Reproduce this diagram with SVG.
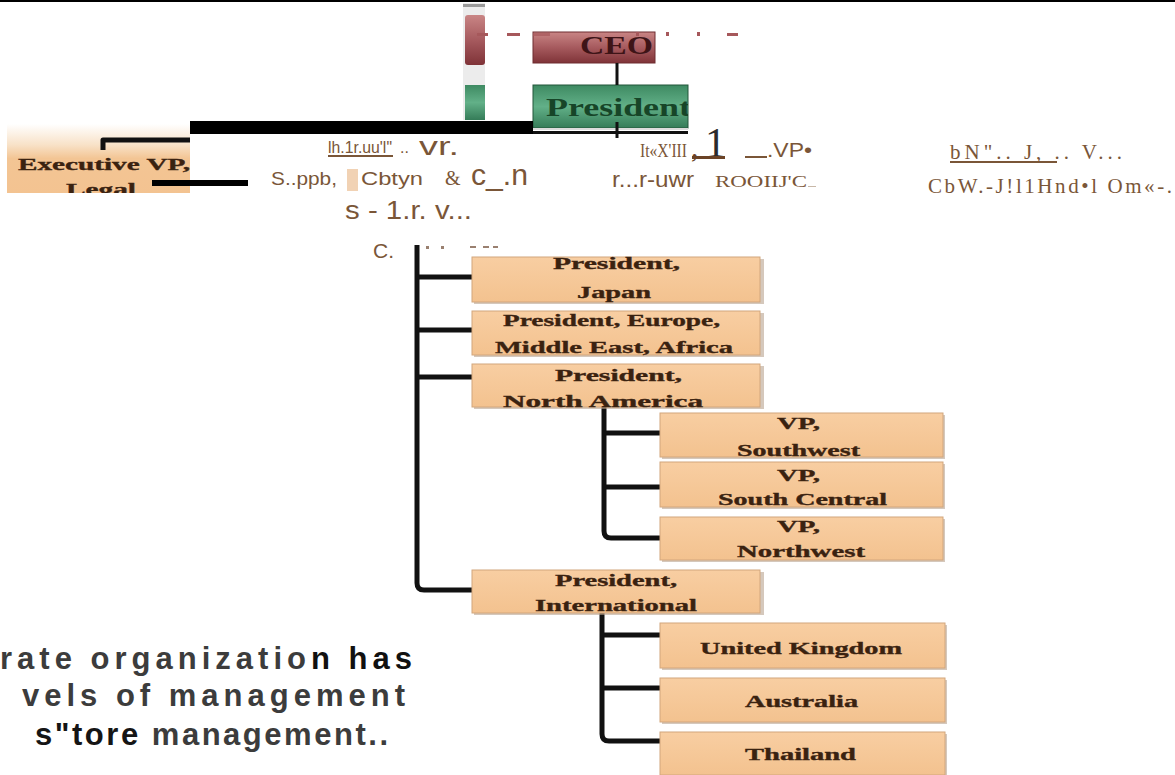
<svg xmlns="http://www.w3.org/2000/svg" width="1175" height="775" viewBox="0 0 1175 775">
<style>
.box{fill:url(#orange);stroke:#d2a67c;stroke-width:1}
.shadow{fill:#b9a48f;opacity:0.6}
.bt{font-family:"Liberation Serif",serif;font-weight:bold;font-size:17px;fill:#3a2210;stroke:#3a2210;stroke-width:0.35;text-anchor:start}
.ln{fill:none;stroke:#111;stroke-width:5;stroke-linecap:butt;stroke-linejoin:round}
.g{font-family:"Liberation Sans",sans-serif;fill:#7a5638}
.gs{font-family:"Liberation Serif",serif;fill:#7a5638}
.body{font-family:"Liberation Sans Narrow","Liberation Sans",sans-serif;font-weight:bold;font-size:31px;fill:#3c3c3c}
</style>
<defs>
<linearGradient id="orange" x1="0" y1="0" x2="0" y2="1">
<stop offset="0" stop-color="#f8cea2"/><stop offset="1" stop-color="#f3c28f"/>
</linearGradient>
<linearGradient id="execg" x1="0" y1="0" x2="0" y2="1">
<stop offset="0" stop-color="#ffffff"/><stop offset="0.3" stop-color="#f8e2c8"/><stop offset="0.5" stop-color="#f3c594"/><stop offset="1" stop-color="#f3c391"/>
</linearGradient>
<linearGradient id="red" x1="0" y1="0" x2="0" y2="1">
<stop offset="0" stop-color="#c98585"/><stop offset="0.5" stop-color="#a65a5e"/><stop offset="1" stop-color="#7f3338"/>
</linearGradient>
<linearGradient id="green" x1="0" y1="0" x2="0" y2="1">
<stop offset="0" stop-color="#3e8a62"/><stop offset="0.5" stop-color="#62b088"/><stop offset="1" stop-color="#357c58"/>
</linearGradient>
<clipPath id="cpExec"><rect x="7" y="124" width="183" height="69"/></clipPath>
<clipPath id="cpPres"><rect x="533" y="85" width="155" height="43"/></clipPath>
</defs>
<rect width="1175" height="775" fill="#ffffff"/>
<rect x="0" y="0" width="1175" height="2" fill="#000"/>

<g id="strip">
<rect x="463" y="3" width="22" height="117" fill="#ececec"/>
<rect x="463" y="4" width="22" height="3" fill="#9a9a9a"/>
<rect x="465" y="15" width="20" height="50" rx="3" fill="url(#red)"/>
<rect x="465" y="85" width="20" height="35" fill="url(#green)"/>
</g>

<g id="ceo">
<rect x="533" y="32" width="122" height="31" fill="url(#red)" stroke="#6e2c30" stroke-width="1"/>
<text x="580" y="54" font-family="Liberation Serif,serif" font-weight="bold" font-size="25" fill="#3e1417" textLength="73" lengthAdjust="spacingAndGlyphs">CEO</text>
</g>

<g id="president">
<rect x="533" y="85" width="155" height="43" fill="url(#green)" stroke="#23563b" stroke-width="1"/>
<g clip-path="url(#cpPres)">
<text x="546" y="116" font-family="Liberation Serif,serif" font-weight="bold" font-size="26" fill="#174528" textLength="145" lengthAdjust="spacingAndGlyphs">President</text>
</g>
<rect x="533" y="128" width="155" height="2" fill="#dcdcdc"/>
<rect x="533" y="131" width="155" height="3" fill="#111"/>
</g>

<g id="exec">
<rect x="7" y="124" width="183" height="69" fill="url(#execg)"/>
<g clip-path="url(#cpExec)">
<text class="bt" x="18" y="170" font-size="18" textLength="172" lengthAdjust="spacingAndGlyphs">Executive VP,</text>
<text class="bt" x="66" y="195" font-size="18" textLength="70" lengthAdjust="spacingAndGlyphs">Legal</text>
</g>
</g>

<g id="dashes" fill="#a6585b">
<rect x="477" y="33" width="11" height="3"/>
<rect x="507" y="33" width="13" height="3"/>
<rect x="533" y="33" width="17" height="3" opacity="0.7"/>
<rect x="636" y="32" width="3" height="4"/>
<rect x="666" y="32" width="3" height="4"/>
<rect x="697" y="32" width="3" height="4"/>
<rect x="727" y="33" width="11" height="3"/>
</g>

<g id="connectors">
<line x1="617" y1="63" x2="617" y2="85" stroke="#111" stroke-width="3"/>
<line x1="617" y1="122" x2="617" y2="138" stroke="#111" stroke-width="3"/>
<path class="ln" d="M103,150 V140 H190"/>
<rect x="190" y="121" width="343" height="13" fill="#000"/>
<rect x="152" y="180" width="96" height="6" fill="#000"/>
<path class="ln" d="M417,245 V583 Q417,590 424,590 H472"/>
<path class="ln" d="M417,277 H472"/>
<path class="ln" d="M417,330 H472"/>
<path class="ln" d="M417,377 H472"/>
<path class="ln" d="M604,407 V531 Q604,538 611,538 H660"/>
<path class="ln" d="M604,433 H660"/>
<path class="ln" d="M604,487 H660"/>
<path class="ln" d="M602,613 V734 Q602,741 609,741 H660"/>
<path class="ln" d="M602,635 H660"/>
<path class="ln" d="M602,688 H660"/>
</g>

<g id="garbled">
<text class="g" x="328" y="153" font-size="17" textLength="64" lengthAdjust="spacingAndGlyphs">lh.1r.uu'l"</text>
<rect x="328" y="155" width="65" height="2" fill="#7a5638"/>
<text class="g" x="400" y="153" font-size="16">..</text>
<text class="g" x="419" y="155" font-size="25" textLength="40" lengthAdjust="spacingAndGlyphs">vr.</text>
<text class="g" x="271" y="185" font-size="19" textLength="66" lengthAdjust="spacingAndGlyphs">S..ppb,</text>
<rect x="347" y="169" width="11" height="22" fill="#f1d2b4"/>
<text class="g" x="361" y="185" font-size="19" textLength="62" lengthAdjust="spacingAndGlyphs">Cbtyn</text>
<text class="gs" x="445" y="185" font-size="20">&amp;</text>
<text class="g" x="471" y="185" font-size="29" textLength="57" lengthAdjust="spacingAndGlyphs">c_.n</text>
<text class="g" x="345" y="219" font-size="25" textLength="127" lengthAdjust="spacingAndGlyphs">s - 1.r. v...</text>

<text class="gs" x="640" y="157" font-size="19"><tspan textLength="47" lengthAdjust="spacingAndGlyphs">It«X'III</tspan><tspan x="691" font-size="30" fill="#6b4326">,</tspan><tspan x="705" font-family="Liberation Serif,serif" font-size="42" fill="#2b2b2b">1</tspan></text>
<rect x="692" y="156" width="33" height="3" fill="#6b4326"/>
<rect x="745" y="156" width="22" height="2" fill="#7a5638"/>
<text class="g" x="767" y="157" font-size="20" textLength="45" lengthAdjust="spacingAndGlyphs">.VP•</text>
<text class="g" x="612" y="187" font-size="22" textLength="82" lengthAdjust="spacingAndGlyphs">r...r-uwr</text>
<text class="gs" x="715" y="187" font-size="16" textLength="92" lengthAdjust="spacingAndGlyphs">ROOIIJ'C</text>
<rect x="808" y="186" width="8" height="1" fill="#c8b8a8"/>

<text class="gs" x="950" y="159" font-size="21" textLength="172" lengthAdjust="spacing">bN"..  J, .. V...</text>
<rect x="950" y="161" width="107" height="2" fill="#7a5638"/>
<text class="gs" x="928" y="193" font-size="21" textLength="244" lengthAdjust="spacing">CbW.-J!l1Hnd•l Om«-.</text>

<text class="g" x="373" y="258" font-size="21">C.</text>
<g fill="#9a8070">
<rect x="426" y="246" width="3" height="3"/>
<rect x="441" y="246" width="3" height="3"/>
<rect x="470" y="246" width="6" height="2"/>
<rect x="483" y="246" width="6" height="2"/>
<rect x="493" y="246" width="5" height="2"/>
</g>
</g>

<g id="n-japan">
<rect class="shadow" x="474" y="259" width="290" height="45"/>
<rect class="box" x="472" y="257" width="288" height="45"/>
<text class="bt" x="553" y="269" textLength="127" lengthAdjust="spacingAndGlyphs">President,</text>
<text class="bt" x="577" y="298" textLength="74" lengthAdjust="spacingAndGlyphs">Japan</text>
</g>
<g id="n-emea">
<rect class="shadow" x="474" y="313" width="290" height="44"/>
<rect class="box" x="472" y="311" width="288" height="44"/>
<text class="bt" x="503" y="326" textLength="217" lengthAdjust="spacingAndGlyphs">President, Europe,</text>
<text class="bt" x="495" y="353" textLength="238" lengthAdjust="spacingAndGlyphs">Middle East, Africa</text>
</g>
<g id="n-na">
<rect class="shadow" x="474" y="366" width="290" height="43"/>
<rect class="box" x="472" y="364" width="288" height="43"/>
<text class="bt" x="555" y="381" textLength="127" lengthAdjust="spacingAndGlyphs">President,</text>
<text class="bt" x="503" y="407" textLength="200" lengthAdjust="spacingAndGlyphs">North America</text>
</g>
<g id="n-sw">
<rect class="shadow" x="662" y="415" width="283" height="44"/>
<rect class="box" x="660" y="413" width="283" height="44"/>
<text class="bt" x="777" y="429" textLength="43" lengthAdjust="spacingAndGlyphs">VP,</text>
<text class="bt" x="737" y="456" textLength="123" lengthAdjust="spacingAndGlyphs">Southwest</text>
</g>
<g id="n-sc">
<rect class="shadow" x="662" y="464" width="283" height="45"/>
<rect class="box" x="660" y="462" width="283" height="45"/>
<text class="bt" x="777" y="481" textLength="43" lengthAdjust="spacingAndGlyphs">VP,</text>
<text class="bt" x="718" y="505" textLength="169" lengthAdjust="spacingAndGlyphs">South Central</text>
</g>
<g id="n-nw">
<rect class="shadow" x="662" y="519" width="283" height="43"/>
<rect class="box" x="660" y="517" width="283" height="43"/>
<text class="bt" x="777" y="532" textLength="43" lengthAdjust="spacingAndGlyphs">VP,</text>
<text class="bt" x="737" y="557" textLength="128" lengthAdjust="spacingAndGlyphs">Northwest</text>
</g>
<g id="n-intl">
<rect class="shadow" x="474" y="572" width="290" height="43"/>
<rect class="box" x="472" y="570" width="288" height="43"/>
<text class="bt" x="555" y="586" textLength="122" lengthAdjust="spacingAndGlyphs">President,</text>
<text class="bt" x="535" y="611" textLength="162" lengthAdjust="spacingAndGlyphs">International</text>
</g>
<g id="n-uk">
<rect class="shadow" x="662" y="625" width="285" height="45"/>
<rect class="box" x="660" y="623" width="285" height="45"/>
<text class="bt" x="700" y="654" textLength="202" lengthAdjust="spacingAndGlyphs">United Kingdom</text>
</g>
<g id="n-au">
<rect class="shadow" x="662" y="680" width="285" height="44"/>
<rect class="box" x="660" y="678" width="285" height="44"/>
<text class="bt" x="745" y="707" textLength="113" lengthAdjust="spacingAndGlyphs">Australia</text>
</g>
<g id="n-th">
<rect class="shadow" x="662" y="734" width="285" height="41"/>
<rect class="box" x="660" y="732" width="285" height="43"/>
<text class="bt" x="745" y="760" textLength="111" lengthAdjust="spacingAndGlyphs">Thailand</text>
</g>

<g id="caption">
<text class="body" x="0" y="669" textLength="412" lengthAdjust="spacing">rate organizatio<tspan fill="#111">n has</tspan></text>
<text class="body" x="22" y="706" textLength="383" lengthAdjust="spacing">vels of management</text>
<text class="body" x="35" y="745" textLength="353" lengthAdjust="spacing"><tspan fill="#151515">s"tore</tspan> management..</text>
</g>
</svg>
